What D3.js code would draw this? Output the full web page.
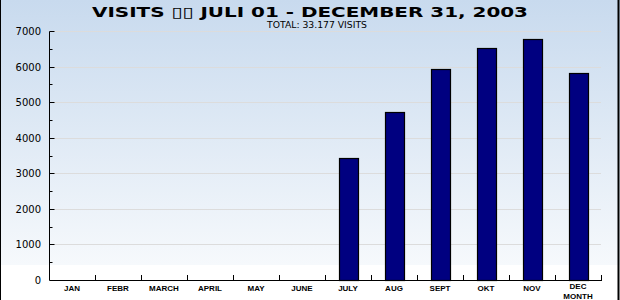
<!DOCTYPE html>
<html>
<head>
<meta charset="utf-8">
<script src="https://cdn.jsdelivr.net/npm/d3@7"></script>
<style>
  body { margin: 0; background: #fff; }
  svg { display: block; }
</style>
</head>
<body>
<svg width="620" height="300"></svg>
<script>
// chart data
var months = ["JAN", "FEBR", "MARCH", "APRIL", "MAY", "JUNE", "JULY", "AUG", "SEPT", "OKT", "NOV", "DEC"];
var visits = [0, 0, 0, 0, 0, 0, 3420, 4710, 5920, 6530, 6780, 5817];
var yTicks = [0, 1000, 2000, 3000, 4000, 5000, 6000, 7000];
var titleText = "VISITS \u25AF\u25AF JULI 01 - DECEMBER 31, 2003";
var subtitleText = "TOTAL: 33.177 VISITS";

var svg = d3.select("svg"),
    W = +svg.attr("width"),
    H = +svg.attr("height"),
    margin = {top: 31, right: 19, bottom: 20, left: 49},
    width = W - margin.left - margin.right,
    height = H - margin.top - margin.bottom;

// background gradient
var defs = svg.append("defs");
var grad = defs.append("linearGradient")
    .attr("id", "bg").attr("x1", 0).attr("y1", 0).attr("x2", 0).attr("y2", 1);
grad.append("stop").attr("offset", "0%").attr("stop-color", "#c8daee");
grad.append("stop").attr("offset", "100%").attr("stop-color", "#f6f9fc");

svg.append("rect").attr("width", W).attr("height", H).attr("fill", "#fff");
svg.append("rect").attr("width", W).attr("height", 265).attr("fill", "url(#bg)");

// frame sides
svg.append("line").attr("x1", 0.5).attr("x2", 0.5).attr("y1", 0).attr("y2", H)
    .attr("stroke", "#000").attr("stroke-width", 1);
svg.append("line").attr("x1", 618.5).attr("x2", 618.5).attr("y1", 0).attr("y2", H)
    .attr("stroke", "#000").attr("stroke-width", 2);

var x = d3.scaleBand().domain(months).range([0, width]).padding(0),
    y = d3.scaleLinear().domain([0, 7000]).range([height, 0]);

var g = svg.append("g")
    .attr("transform", "translate(" + margin.left + "," + margin.top + ")");

// grid lines
g.selectAll(".grid")
    .data(yTicks.filter(function(d) { return d > 0; }))
    .enter().append("line")
    .attr("x1", 0).attr("x2", width)
    .attr("y1", function(d) { return Math.round(y(d)) + 0.5; })
    .attr("y2", function(d) { return Math.round(y(d)) + 0.5; })
    .attr("stroke", "#dcdcdc");

// bars
var barW = x.bandwidth() * 0.41;
g.selectAll(".bar")
    .data(visits.map(function(v, i) { return {m: months[i], v: v}; }).filter(function(d) { return d.v > 0; }))
    .enter().append("rect")
    .attr("x", function(d) { return Math.round(x(d.m) + (x.bandwidth() - barW) / 2) + 0.5; })
    .attr("y", function(d) { return Math.round(y(d.v)) + 0.5; })
    .attr("width", Math.round(barW))
    .attr("height", function(d) { return Math.round(height - y(d.v)); })
    .attr("fill", "#000080")
    .attr("stroke", "#000")
    .attr("stroke-width", 1.2);

// y axis
var yAxis = d3.axisRight(y).tickValues(d3.range(0, 7001, 500)).tickSize(5).tickFormat("");
var ya = g.append("g").call(yAxis);
ya.select(".domain").attr("d", "M0.5," + height + "V0.5");
ya.selectAll(".tick line")
    .attr("x1", 0.5)
    .attr("x2", function(d) { return d % 1000 === 0 ? 5.5 : 3.5; });
ya.selectAll(".tick").attr("transform", function(d) { return "translate(0," + (Math.round(y(d)) + 0.5) + ")"; });

g.selectAll(".ylab")
    .data(yTicks)
    .enter().append("text")
    .attr("x", -8)
    .attr("y", function(d) { return y(d) + 4; })
    .attr("text-anchor", "end")
    .attr("font-family", "DejaVu Sans, sans-serif")
    .attr("font-size", "10px")
    .attr("fill", "#000")
    .text(function(d) { return d; });

// x axis
var bounds = months.map(function(m) { return x(m) + x.bandwidth(); });
var xa = g.append("g").attr("transform", "translate(0," + height + ")");
xa.append("path").attr("d", "M0.5,0.5H" + (width + 1)).attr("stroke", "#000").attr("fill", "none");
xa.selectAll(".xt")
    .data(bounds)
    .enter().append("line")
    .attr("x1", function(d) { return Math.round(d) + 0.5; })
    .attr("x2", function(d) { return Math.round(d) + 0.5; })
    .attr("y1", 0).attr("y2", -5)
    .attr("stroke", "#000");

xa.selectAll(".xlab")
    .data(months)
    .enter().append("text")
    .attr("x", function(d) { return x(d) + x.bandwidth() / 2; })
    .attr("y", function(d) { return d === "DEC" ? 9 : 10.5; })
    .attr("text-anchor", "middle")
    .attr("font-family", "Liberation Sans Narrow, Arial Narrow, sans-serif")
    .attr("font-weight", "bold")
    .attr("font-size", "8px")
    .attr("fill", "#000")
    .text(function(d) { return d; });

xa.append("text")
    .attr("x", x("DEC") + x.bandwidth() / 2)
    .attr("y", 18.6)
    .attr("text-anchor", "middle")
    .attr("font-family", "Liberation Sans Narrow, Arial Narrow, sans-serif")
    .attr("font-weight", "bold")
    .attr("font-size", "8px")
    .text("MONTH");

// titles
svg.append("text")
    .attr("x", 310).attr("y", 16.5)
    .attr("text-anchor", "middle")
    .attr("font-family", "DejaVu Sans, sans-serif")
    .attr("font-weight", "bold")
    .attr("font-size", "14px")
    .attr("textLength", 436)
    .attr("lengthAdjust", "spacingAndGlyphs")
    .text(titleText);

svg.append("text")
    .attr("x", 317).attr("y", 28)
    .attr("text-anchor", "middle")
    .attr("font-family", "DejaVu Sans, sans-serif")
    .attr("font-size", "8px")
    .attr("textLength", 100)
    .attr("lengthAdjust", "spacingAndGlyphs")
    .text(subtitleText);
</script>
</body>
</html>
